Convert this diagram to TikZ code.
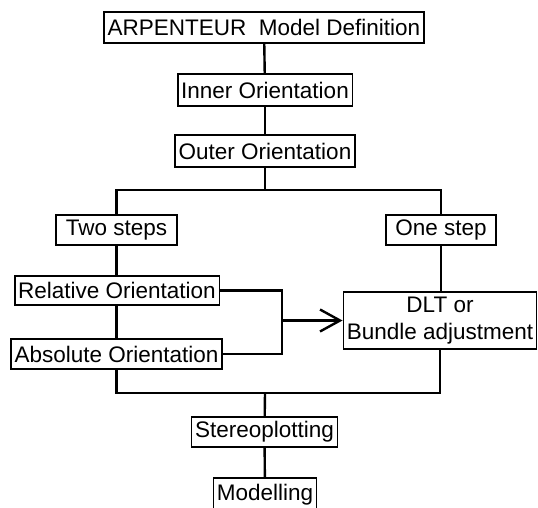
\documentclass[tikz,border=0pt]{standalone}
\usepackage{fontspec}
\setmainfont{Liberation Sans}
\usetikzlibrary{arrows.meta}

\begin{document}
\begin{tikzpicture}[x=1pt,y=-1pt,
    stage/.style={draw, line width=1.6pt, inner xsep=3.5pt, inner ysep=0pt,
        minimum height=30pt, font=\fontsize{22.5}{27}\selectfont, align=center},
    link/.style={line width=2.4pt}]

\useasboundingbox (0,0) rectangle (538,507);

% Common part
\node[stage, minimum height=31pt] (def) at (264,27.5) {ARPENTEUR~ Model Definition};
\node[stage, minimum height=32pt] (inner) at (265,90) {Inner Orientation};
\node[stage, minimum height=32pt] (outer) at (265,151) {Outer Orientation};
\draw[link] (def) -- (inner);
\draw[link] (inner) -- (outer);

% Two ways
\coordinate (split) at (265,190);
\node[stage, minimum width=121pt] (two) at (116.5,230) {Two steps};
\node[stage, minimum width=110pt] (one) at (441,230) {One step};
\draw[link] (outer) -- (split);
\draw[link] (two.north) |- (split) -| (one.north);

\node[stage, minimum height=29pt] (rel) at (117,290.5) {Relative Orientation};
\node[stage] (abs) at (116.5,354) {Absolute Orientation};
\node[stage, minimum height=57pt] (dlt) at (440,320.5) {DLT or\\Bundle adjustment};
\draw[link] (two.south) -- (two.south |- rel.north);
\draw[link] (rel.south -| two.south) -- (two.south |- abs.north);
\draw[link] (one) -- (one |- dlt.north);

% Bracket into the bundle
\coordinate (fork) at (282,320.5);
\draw[link] (rel.east) -| (fork) |- (abs.east);
\draw[link, -{Straight Barb[length=20pt,width=22pt,line width=2.4pt]}] (fork) -- (dlt.west);

% Merge and output
\coordinate (merge) at (265,393);
\node[stage] (stereo) at (264.5,432) {Stereoplotting};
\node[stage, minimum height=34pt] (modelling) at (265,495) {Modelling};
\draw[link] (abs.south -| two.south) |- (merge) -| (dlt.south);
\draw[link] (merge) -- (stereo);
\draw[link] (stereo) -- (modelling);

\end{tikzpicture}
\end{document}
